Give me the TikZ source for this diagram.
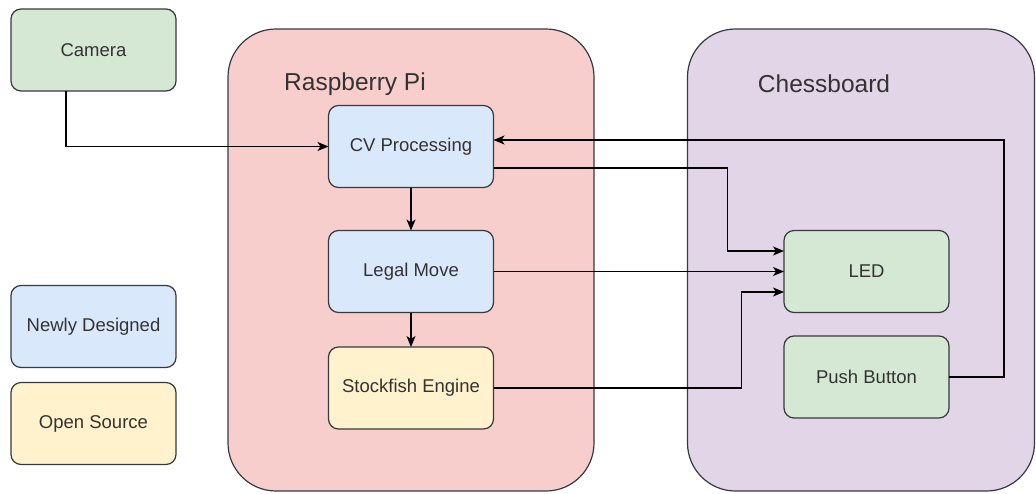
\documentclass[tikz,border=0pt]{standalone}
\usepackage{fontspec}
\setmainfont{Liberation Sans}
\usetikzlibrary{arrows.meta}
\definecolor{gfill}{HTML}{D5E8D4}
\definecolor{bfill}{HTML}{DAE8FC}
\definecolor{yfill}{HTML}{FFF2CC}
\definecolor{pfill}{HTML}{F8CECC}
\definecolor{vfill}{HTML}{E1D5E7}
\definecolor{edge}{HTML}{36393D}
\definecolor{txt}{HTML}{333333}
\begin{document}
\begin{tikzpicture}[x=1pt,y=-1pt,
  box/.style={draw=edge, line width=1.2pt, rounded corners=10pt, minimum width=165pt, minimum height=82pt, inner sep=0pt, outer sep=0pt, text=txt, font=\fontsize{18.5}{22}\selectfont},
  container/.style={draw=edge, line width=1.2pt, rounded corners=48pt, inner sep=0pt, outer sep=0pt},
  title/.style={text=txt, font=\fontsize{24.5}{28}\selectfont, inner sep=0pt},
  conn/.style={draw=black, line width=1.2pt, -{Stealth[length=11pt,width=9pt,inset=3pt]}},
  plain/.style={draw=black, line width=1.2pt}]
\useasboundingbox (0,0) rectangle (1036,493);
% containers
\node[container, fill=pfill, minimum width=366pt, minimum height=462pt] (rpi) at (411,260) {};
\node[container, fill=vfill, minimum width=347pt, minimum height=462pt] (chess) at (861,260) {};
\node[title] (rpit) at (355,84) {Raspberry Pi};
\node[title] (chesst) at (824,84) {Chessboard};
% nodes
\node[box, fill=gfill] (cam) at (93.5,50) {Camera};
\node[box, fill=bfill] (nd) at (93.5,326.5) {Newly Designed};
\node[box, fill=yfill] (os) at (93.5,423.5) {Open Source};
\node[box, fill=bfill] (cv) at (411,146.5) {CV Processing};
\node[box, fill=bfill] (legal) at (411,271.5) {Legal Move};
\node[box, fill=yfill] (sf) at (411,388) {Stockfish Engine};
\node[box, fill=gfill] (led) at (866.5,271.5) {LED};
\node[box, fill=gfill] (push) at (866.5,377) {Push Button};
% connectors
\draw[conn] ([xshift=-27.5pt]cam.south) |- (cv.west);
\draw[conn] (cv.south) -- (legal.north);
\draw[conn] (legal.south) -- (sf.north);
\draw[conn] ([yshift=-21.5pt]cv.east) -- ++(234,0) |- ([yshift=20.5pt]led.west);
\draw[conn] (legal.east) -- (led.west);
\draw[conn] (sf.east) -- ++(248,0) |- ([yshift=-20.5pt]led.west);
\draw[conn] (push.east) -- ++(55,0) |- ([yshift=6.5pt]cv.east);
\end{tikzpicture}
\end{document}
